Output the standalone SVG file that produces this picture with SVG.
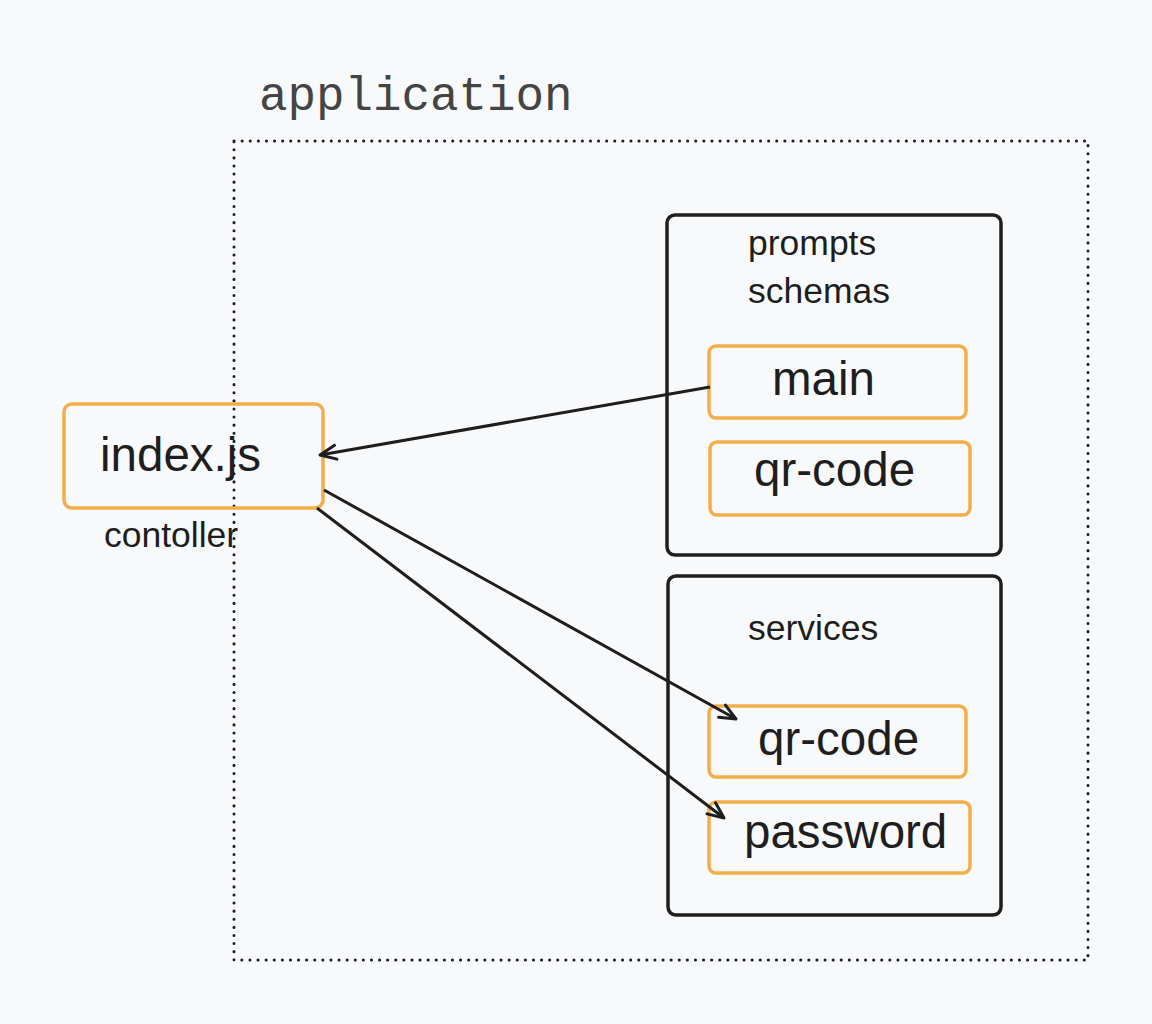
<svg xmlns="http://www.w3.org/2000/svg" width="1152" height="1024" viewBox="0 0 1152 1024">
<style>
.bg{fill:#f8f9fb}
.orange{fill:none;stroke:#f2ae4a;stroke-width:3.5}
.dark{fill:none;stroke:#1e1e1e;stroke-width:3.5}
.big{font-family:"Liberation Sans",Arial,sans-serif;font-size:47.5px;fill:#1e1e1e}
.small{font-family:"Liberation Sans",Arial,sans-serif;font-size:35.5px;fill:#1e1e1e}
.mono{font-family:"Liberation Mono","Courier New",monospace;font-size:47.5px;fill:#444}
.conn{fill:none;stroke:#1e1e1e;stroke-width:3}
</style>
<defs>
<marker id="arr" viewBox="0 0 20 20" refX="18" refY="10" markerWidth="20" markerHeight="20" markerUnits="userSpaceOnUse" orient="auto">
<path d="M2,3 L18,10 L2,17" fill="none" stroke="#1e1e1e" stroke-width="3" stroke-linecap="round" stroke-linejoin="round"/>
</marker>
</defs>
<rect class="bg" x="0" y="0" width="1152" height="1024"/>
<g id="application">
<text class="mono" x="259" y="110">application</text>
<rect x="234" y="141" width="854" height="819" fill="none" stroke="#1e1e1e" stroke-width="3" stroke-dasharray="0.1 8" stroke-linecap="round"/>
</g>
<g id="index">
<rect class="orange" x="64" y="404" width="259" height="104" rx="8"/>
<text class="big" x="100" y="471">index.js</text>
<text class="small" x="104" y="547">contoller</text>
</g>
<g id="prompts">
<rect class="dark" x="667" y="215" width="334" height="340" rx="8"/>
<text class="small" x="748" y="255">prompts</text>
<text class="small" x="748" y="303">schemas</text>
</g>
<g id="main">
<rect class="orange" x="709" y="346" width="257" height="72" rx="7"/>
<text class="big" x="772" y="395">main</text>
</g>
<g id="qrcode1">
<rect class="orange" x="710" y="442" width="260" height="73" rx="7"/>
<text class="big" x="754" y="486">qr-code</text>
</g>
<g id="services">
<rect class="dark" x="668" y="576" width="333" height="339" rx="8"/>
<text class="small" x="748" y="640">services</text>
</g>
<g id="qrcode2">
<rect class="orange" x="709" y="706" width="257" height="71" rx="7"/>
<text class="big" x="758" y="755">qr-code</text>
</g>
<g id="password">
<rect class="orange" x="709" y="802" width="261" height="71" rx="7"/>
<text class="big" x="744" y="848">password</text>
</g>
<g id="connectors">
<line class="conn" x1="710" y1="387" x2="320" y2="455" marker-end="url(#arr)"/>
<line class="conn" x1="324" y1="490" x2="736" y2="719" marker-end="url(#arr)"/>
<line class="conn" x1="317" y1="508" x2="724" y2="818" marker-end="url(#arr)"/>
</g>
</svg>
